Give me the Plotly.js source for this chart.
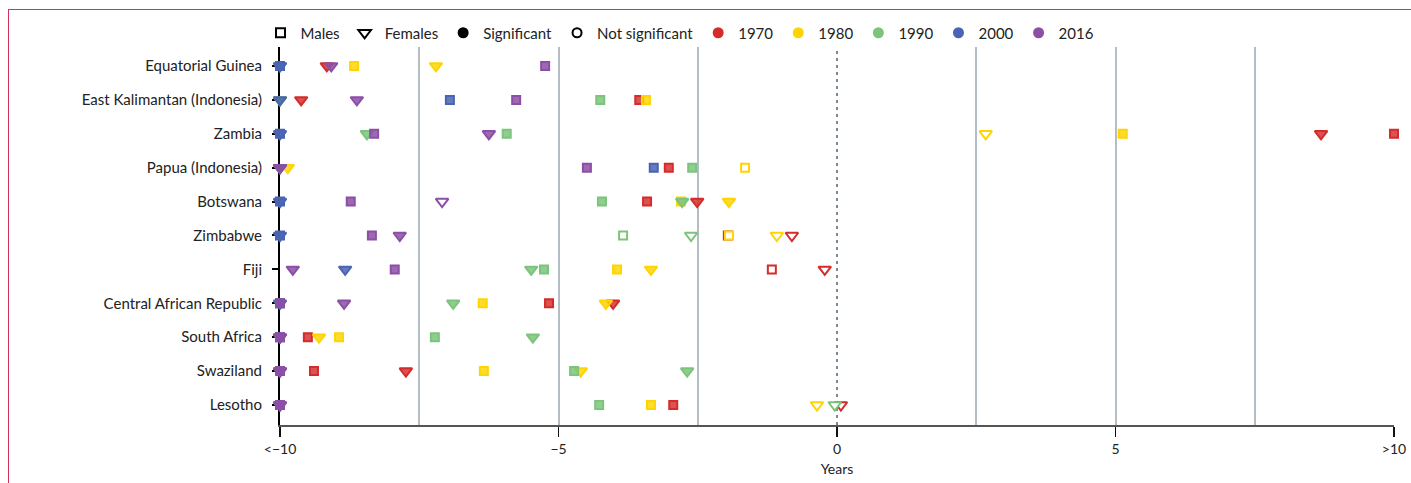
<!DOCTYPE html>
<html>
<head>
<meta charset="utf-8">
<script src="https://cdn.plot.ly/plotly-3.0.1.min.js"></script>
<style>
  html, body { margin: 0; padding: 0; background: #fff; }
  #frame { position: absolute; left: 8px; top: 9px; right: 0; bottom: 0; border-top: 1.5px solid #d4305a; border-left: 1.5px solid #d4305a; }
  #chart { position: absolute; left: 0; top: 0; width: 1411px; height: 483px; }
</style>
</head>
<body>
<div id="frame"></div>
<div id="chart"></div>
<script>
// Countries (top to bottom)
const countries = ['Equatorial Guinea', 'East Kalimantan (Indonesia)', 'Zambia', 'Papua (Indonesia)', 'Botswana',
  'Zimbabwe', 'Fiji', 'Central African Republic', 'South Africa', 'Swaziland', 'Lesotho'];

// Years (values clipped to [-10, 10])
const male1970 = [-10, -3.55, 10, -3.02, -3.41, -1.96, -1.17, -5.17, -9.5, -9.39, -2.94];
const male1980 = [-8.67, -3.43, 5.13, -1.65, -2.8, -1.94, -3.95, -6.36, -8.94, -6.34, -3.34];
const male1990 = [-10, -4.25, -5.93, -2.6, -4.22, -3.84, -5.26, -10, -7.22, -4.72, -4.27];
const male2000 = [-10, -6.95, -10, -3.29, -10, -10, null, -10, -10, -10, -10];
const male2016 = [-5.24, -5.76, -8.31, -4.49, -8.73, -8.35, -7.94, -10, -10, -10, -10];

const female1970 = [-9.16, -9.62, 8.69, -10, -2.51, -0.81, -0.22, -4.02, -10, -7.74, 0.07];
const female1980 = [-7.2, -10, 2.67, -9.86, -1.94, -1.08, -3.34, -4.15, -9.3, -4.6, -0.36];
const female1990 = [-10, -10, -8.44, -10, -2.78, -2.62, -5.49, -6.89, -5.46, -2.69, -0.04];
const female2000 = [-10, -10, -10, -10, -10, -10, -8.83, -10, -10, -10, -10];
const female2016 = [-9.08, -8.62, -6.25, -10, -7.09, -7.85, -9.77, -8.85, -10, -10, -10];

// Not significant (countries)
const nsMale1970 = ['Fiji'];
const nsMale1980 = ['Papua (Indonesia)', 'Zimbabwe'];
const nsMale1990 = ['Zimbabwe'];
const nsMale2000 = [];
const nsMale2016 = [];
const nsFemale1970 = ['Zimbabwe', 'Fiji', 'Lesotho'];
const nsFemale1980 = ['Zambia', 'Zimbabwe', 'Lesotho'];
const nsFemale1990 = ['Zimbabwe', 'Lesotho'];
const nsFemale2000 = [];
const nsFemale2016 = ['Botswana'];

const years = ['1970', '1980', '1990', '2000', '2016'];
const xTickVals = [-10, -5, 0, 5, 10];
const xTickText = ['<\u221210', '\u22125', '0', '5', '>10'];

const yearColors = ['#d42b2b', '#ffd400', '#7cc47c', '#4a64b4', '#8c4fa6'];
const yearFills = ['rgba(212,43,43,0.82)', 'rgba(255,212,0,0.82)', 'rgba(124,196,124,0.85)', 'rgba(74,100,180,0.85)', 'rgba(140,79,166,0.85)'];

const maleSeries = [male1970, male1980, male1990, male2000, male2016];
const femaleSeries = [female1970, female1980, female1990, female2000, female2016];
const nsMale = [nsMale1970, nsMale1980, nsMale1990, nsMale2000, nsMale2016];
const nsFemale = [nsFemale1970, nsFemale1980, nsFemale1990, nsFemale2000, nsFemale2016];

const traces = [];
years.forEach((yr, i) => {
  const mk = (vals, ns, symbol, size) => ({
    type: 'scatter', mode: 'markers', x: vals, y: countries, showlegend: false, hoverinfo: 'skip',
    cliponaxis: false,
    marker: {
      symbol: symbol, size: size,
      color: countries.map(c => ns.includes(c) ? '#ffffff' : yearFills[i]),
      line: { color: yearColors[i], width: 2 }
    }
  });
  traces.push(mk(maleSeries[i], nsMale[i], 'square', 8));
  traces.push(mk(femaleSeries[i], nsFemale[i], 'triangle-down', 11));
});

// Legend entries
const legendItems = [
  { name: 'Males', symbol: 'square-open', color: '#000', size: 9 },
  { name: 'Females', symbol: 'triangle-down-open', color: '#000', size: 11 },
  { name: 'Significant', symbol: 'circle', color: '#000', size: 9 },
  { name: 'Not significant', symbol: 'circle-open', color: '#000', size: 9 }
].concat(years.map((y, i) => ({ name: y, symbol: 'circle', color: yearColors[i], size: 9 })));

legendItems.forEach(it => {
  traces.push({
    type: 'scatter', mode: 'markers', x: [null], y: [null], name: it.name, showlegend: true, hoverinfo: 'skip',
    marker: { symbol: it.symbol, size: it.size, color: it.color, line: { color: it.color, width: 2 } }
  });
});

const layout = {
  width: 1411, height: 483,
  margin: { l: 280, r: 17, t: 47, b: 58 },
  paper_bgcolor: 'rgba(0,0,0,0)', plot_bgcolor: 'rgba(0,0,0,0)',
  font: { family: 'Lato, "Open Sans", sans-serif', size: 15, color: '#222' },
  showlegend: true,
  legend: {
    orientation: 'h', x: -0.0175, xanchor: 'left', y: 1.037, yanchor: 'middle',
    font: { size: 15, color: '#222' }, bgcolor: 'rgba(0,0,0,0)', traceorder: 'normal'
  },
  xaxis: {
    range: [-10, 10], tickmode: 'array', tickvals: xTickVals, ticktext: xTickText,
    showgrid: false, zeroline: false, layer: 'below traces',
    showline: true, linecolor: '#555', linewidth: 2,
    ticks: 'outside', ticklen: 10, tickwidth: 1.5, tickcolor: '#111',
    tickfont: { size: 14, color: '#222' },
    minor: { tickmode: 'array', tickvals: [-7.5, -5, -2.5, 2.5, 5, 7.5, 10], showgrid: true, gridcolor: '#b4bdc3', gridwidth: 2, ticks: '' },
    title: { text: 'Years', font: { size: 14, color: '#222' }, standoff: 8 },
    fixedrange: true
  },
  yaxis: {
    type: 'category', categoryorder: 'array', categoryarray: countries,
    range: [10.59, -0.56], layer: 'below traces',
    showgrid: false, zeroline: false,
    showline: true, linecolor: '#000', linewidth: 2,
    ticks: 'outside', ticklen: 6, tickwidth: 2, tickcolor: '#000',
    ticklabelstandoff: 7,
    tickfont: { size: 15, color: '#222' },
    fixedrange: true
  },
  shapes: [
    { type: 'line', xref: 'x', yref: 'paper', x0: 0, x1: 0, y0: 0, y1: 1, layer: 'below',
      line: { color: '#7b8a96', width: 2, dash: '3px,4px' } }
  ]
};

Plotly.newPlot('chart', traces, layout, { displayModeBar: false, staticPlot: true });
</script>
</body>
</html>
